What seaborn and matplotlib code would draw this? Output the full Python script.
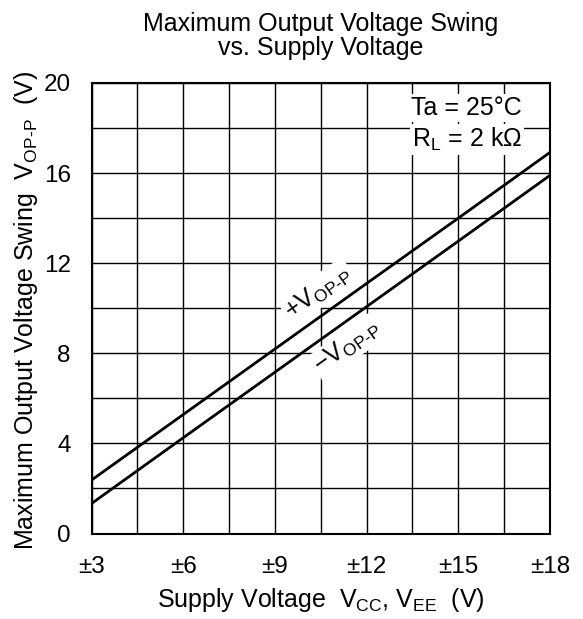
import matplotlib
matplotlib.use("Agg")
import matplotlib.pyplot as plt
import seaborn as sns
import pandas as pd
import numpy as np

supply_v = [3, 6, 9, 12, 15, 18]
pos_swing = [2.37, 5.28, 8.19, 11.10, 14.0, 16.92]
neg_swing = [1.33, 4.25, 7.16, 10.07, 12.98, 15.90]
xtick_vals = [3, 6, 9, 12, 15, 18]
xtick_labels = ["±3", "±6", "±9", "±12", "±15", "±18"]
ytick_vals = [0, 4, 8, 12, 16, 20]

sns.set_theme(style="white")
plt.rcParams['font.family'] = ['Liberation Sans', 'DejaVu Sans']
plt.rcParams['mathtext.fontset'] = 'custom'
plt.rcParams['mathtext.rm'] = 'Liberation Sans'
plt.rcParams['mathtext.it'] = 'Liberation Sans'
plt.rcParams['text.color'] = 'black'
plt.rcParams['axes.labelcolor'] = 'black'

FS = 18
TFS = 17.5

df = pd.DataFrame({
    "x": supply_v * 2,
    "y": pos_swing + neg_swing,
    "s": ["+"] * len(supply_v) + ["-"] * len(supply_v),
})

W, H = 583, 619
L, R, T, B = 91.5, 550, 83, 533.5
fig = plt.figure(figsize=(W / 100, H / 100), dpi=100)
ax = fig.add_axes([L / W, 1 - B / H, (R - L) / W, (B - T) / H])

sns.lineplot(data=df, x="x", y="y", hue="s", palette=["black", "black"],
             linewidth=2, legend=False, ax=ax, zorder=3)

ax.set_xlim(3, 18)
ax.set_ylim(0, 20)
ax.set_xticks(np.arange(3, 18.01, 1.5), minor=True)
ax.set_yticks(np.arange(0, 20.01, 2), minor=True)
ax.set_xticks(xtick_vals)
ax.set_xticklabels(xtick_labels)
ax.set_yticks(ytick_vals)
ax.grid(True, which="both", color="black", linewidth=1)
ax.tick_params(axis="both", which="both", length=0, labelsize=TFS, colors="black")
ax.tick_params(axis="x", pad=16)
ax.tick_params(axis="y", pad=15)
for sp in ax.spines.values():
    sp.set_color("black")
    sp.set_linewidth(1.5)

ax.set_xlabel(r"Supply Voltage  V$_{\mathrm{CC}}$, V$_{\mathrm{EE}}$  (V)", fontsize=FS, color="black")
ax.set_ylabel(r"Maximum Output Voltage Swing  V$_{\mathrm{OP\text{-}P}}$  (V)", fontsize=FS, color="black")
ax.xaxis.set_label_coords((320.5 - L) / (R - L), (B - 586) / (B - T))
ax.yaxis.set_label_coords((40 - L) / (R - L), (B - 310) / (B - T))

fig.text(320.5 / W, 1 - 36 / H, "Maximum Output Voltage Swing\nvs. Supply Voltage",
         ha="center", va="center", fontsize=FS, linespacing=1.0)

bb = dict(facecolor="white", edgecolor="none", pad=1.5)
ax.text(17.08, 18.9, "Ta = 25°C", ha="right", va="center", fontsize=FS, bbox=bb, zorder=4)
ax.text(17.08, 17.5, r"R$_{\mathrm{L}}$ = 2 kΩ", ha="right", va="center", fontsize=FS, bbox=bb, zorder=4)

ax.text(10.41, 10.72, r"+V$_{\mathrm{OP\text{-}P}}$", ha="center", va="center", fontsize=FS,
        rotation=35.5, rotation_mode="anchor", bbox=bb, zorder=4)
ax.text(11.36, 8.29, r"$-$V$_{\mathrm{OP\text{-}P}}$", ha="center", va="center", fontsize=FS,
        rotation=35.5, rotation_mode="anchor", bbox=bb, zorder=4)

fig.savefig("out.png", dpi=100)
